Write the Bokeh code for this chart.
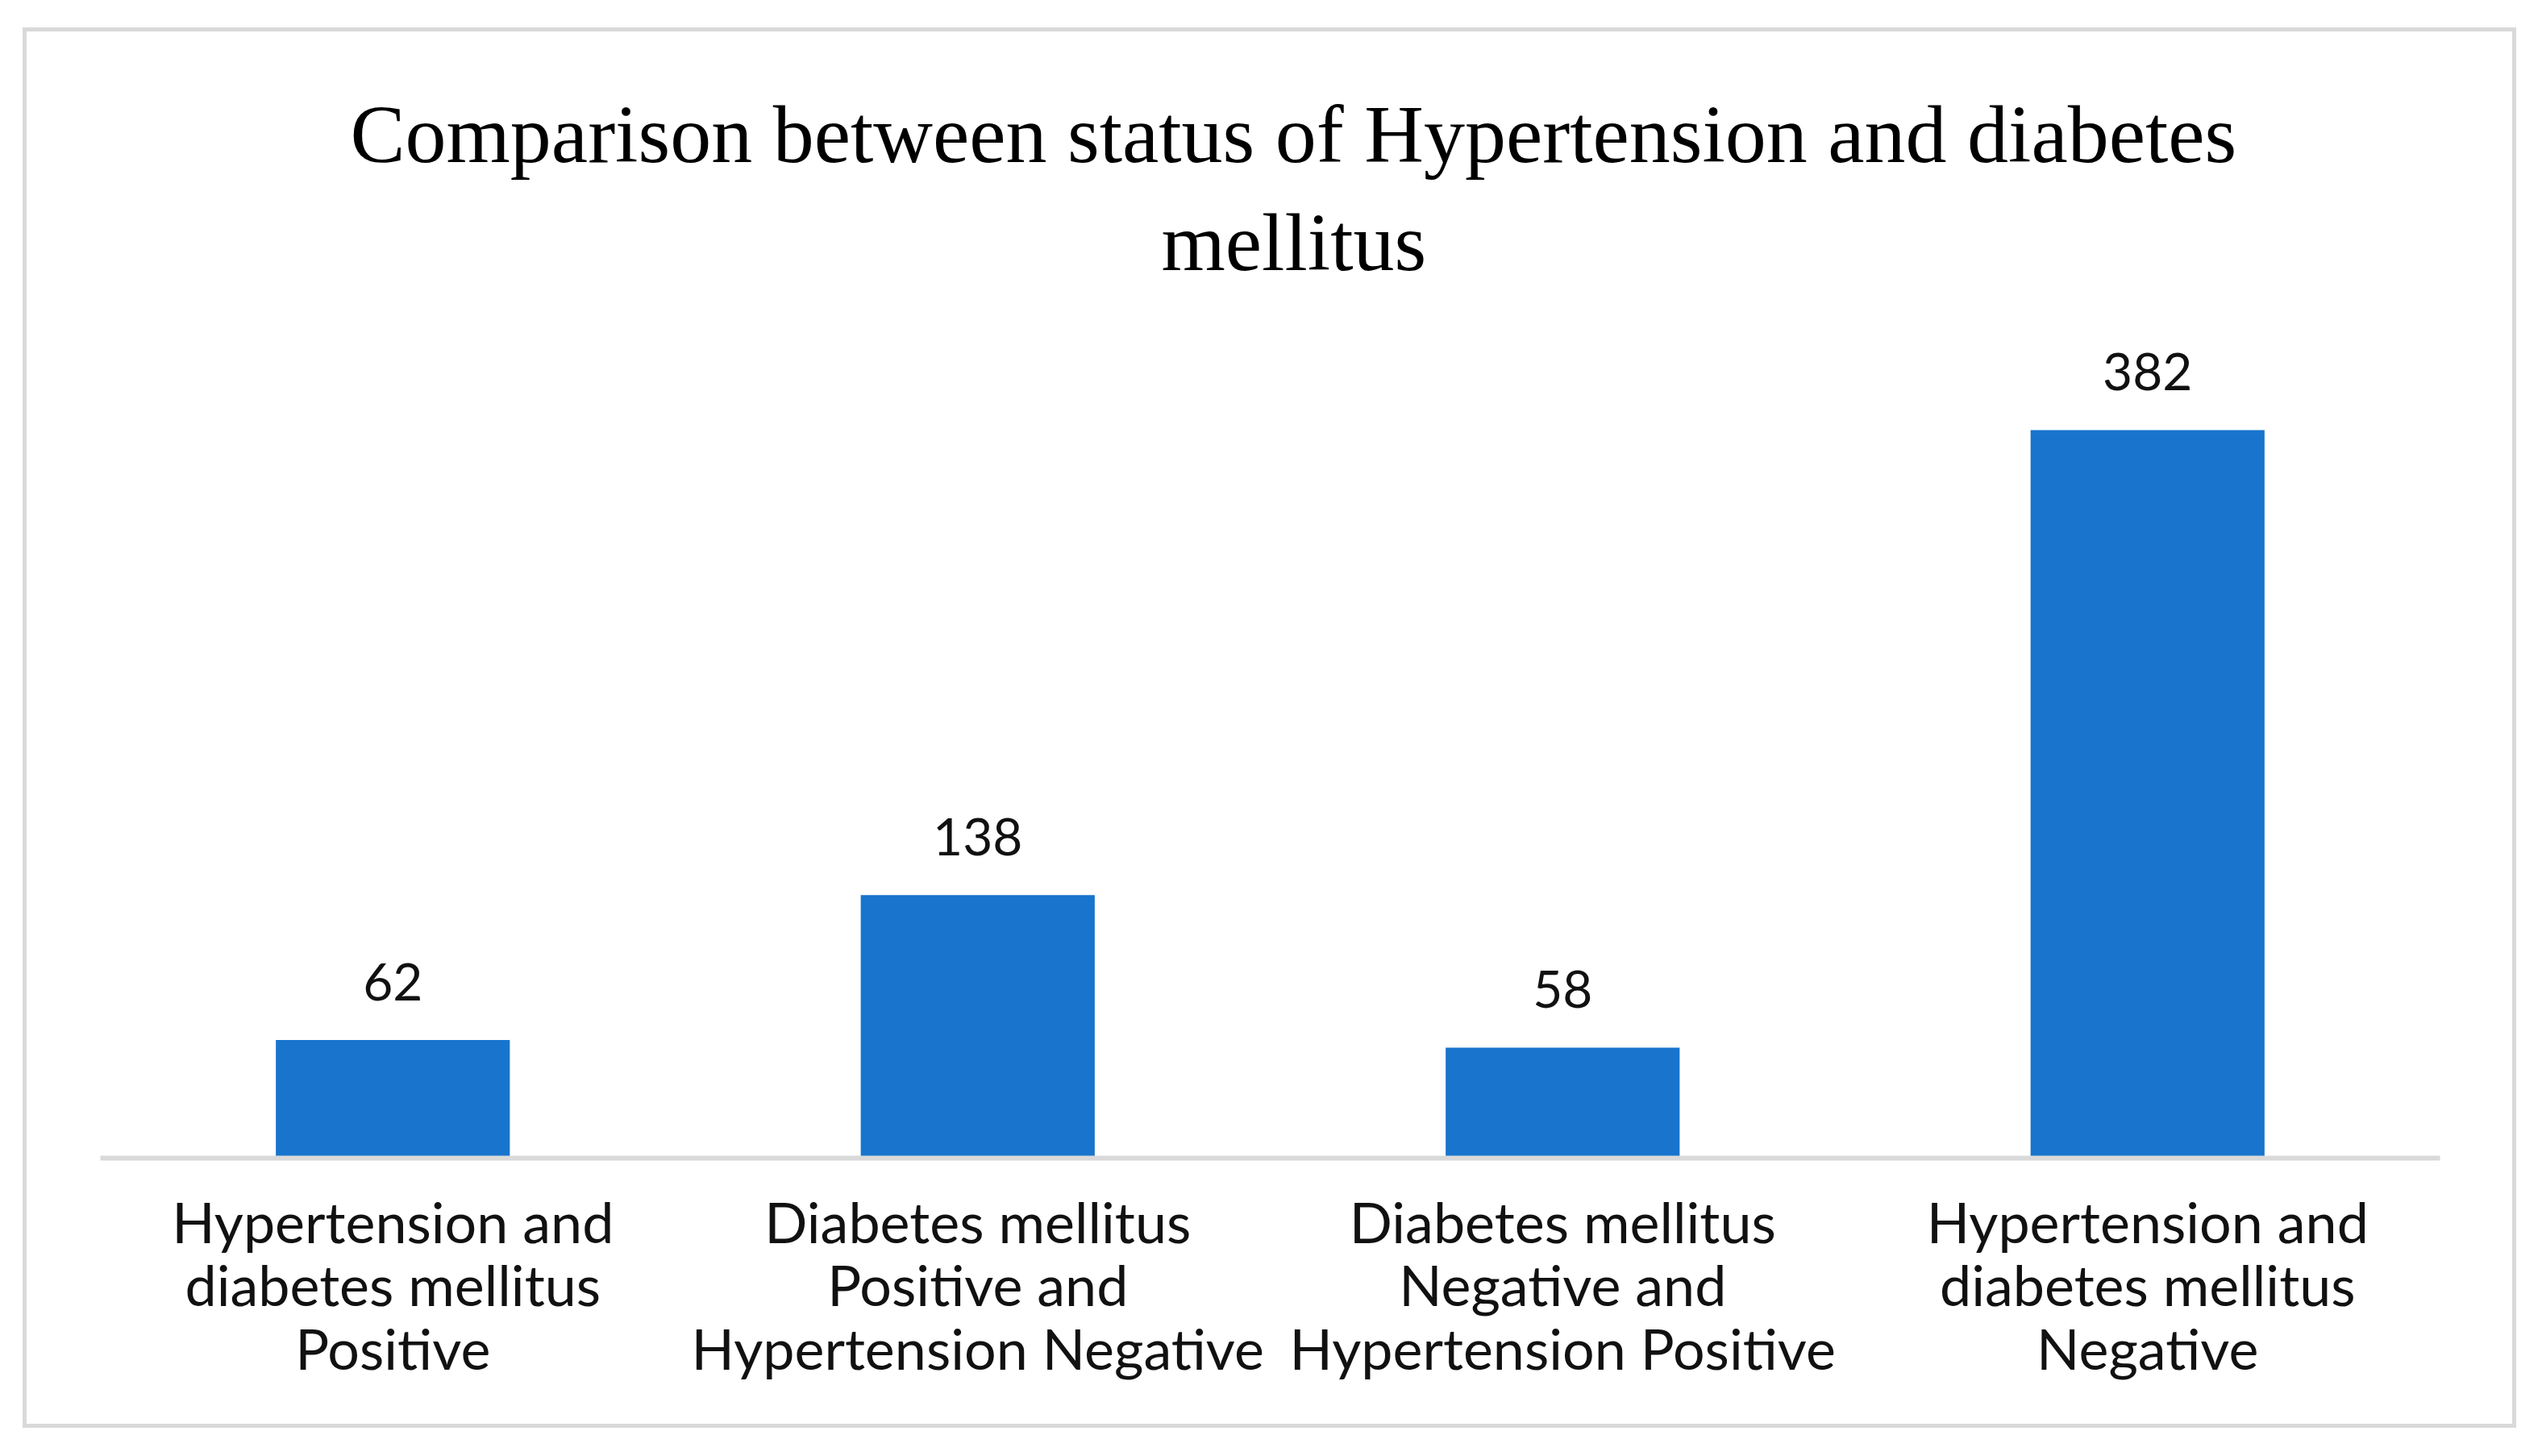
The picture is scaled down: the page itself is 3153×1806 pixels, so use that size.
from bokeh.plotting import figure
from bokeh.models import Range1d, FactorRange, Title, ColumnDataSource
from bokeh.core.properties import value
from bokeh.embed import file_html
from bokeh.resources import INLINE

categories = [
    "Hypertension and\ndiabetes mellitus\nPositive",
    "Diabetes mellitus\nPositive and\nHypertension Negative",
    "Diabetes mellitus\nNegative and\nHypertension Positive",
    "Hypertension and\ndiabetes mellitus\nNegative",
]
counts = [62, 138, 58, 382]
count_labels = [str(c) for c in counts]

title_line1 = "Comparison between status of Hypertension and diabetes"
title_line2 = "mellitus"

src = ColumnDataSource(dict(cat=categories, val=counts, lab=count_labels))

p = figure(
    width=3093, height=1737,
    x_range=FactorRange(factors=categories, range_padding=0),
    y_range=Range1d(0, 448.8),
    output_backend="svg", toolbar_location=None,
    min_border_left=91, min_border_right=100, min_border_top=336, min_border_bottom=340,
    margin=(34, 0, 0, 28),
    styles={"border": "5px solid #d9d9d9"},
)
p.title = None
# first added sits nearest the plot frame
p.add_layout(Title(text=title_line2, align="left", text_font="Liberation Serif",
                   text_font_size="102px", text_font_style="normal", text_color="#000000",
                   text_line_height=0.85, standoff=38, offset=1316), "above")
p.add_layout(Title(text=title_line1, align="left", text_font="Liberation Serif",
                   text_font_size="102px", text_font_style="normal", text_color="#000000",
                   text_line_height=0.5, standoff=0, offset=310), "above")

p.vbar(x="cat", top="val", width=0.4, source=src, fill_color="#1874CD", line_color=None)
p.text(x="cat", y="val", text="lab", source=src, y_offset=-72,
       text_align="center", text_baseline="middle",
       text_font=value("Lato"), text_font_size="64px", text_color="#111111")

p.xgrid.visible = False
p.ygrid.visible = False
p.yaxis.visible = False
p.outline_line_color = None
ax = p.xaxis[0]
ax.axis_line_color = "#d9d9d9"
ax.axis_line_width = 6
ax.major_tick_line_color = None
ax.minor_tick_line_color = None
ax.major_label_standoff = 30
ax.major_label_text_font = "Lato"
ax.major_label_text_font_size = "70px"
ax.major_label_text_color = "#111111"
ax.major_label_text_line_height = 0.94
ax.major_label_orientation = "horizontal"

open("out.html", "w").write(file_html(p, INLINE))
